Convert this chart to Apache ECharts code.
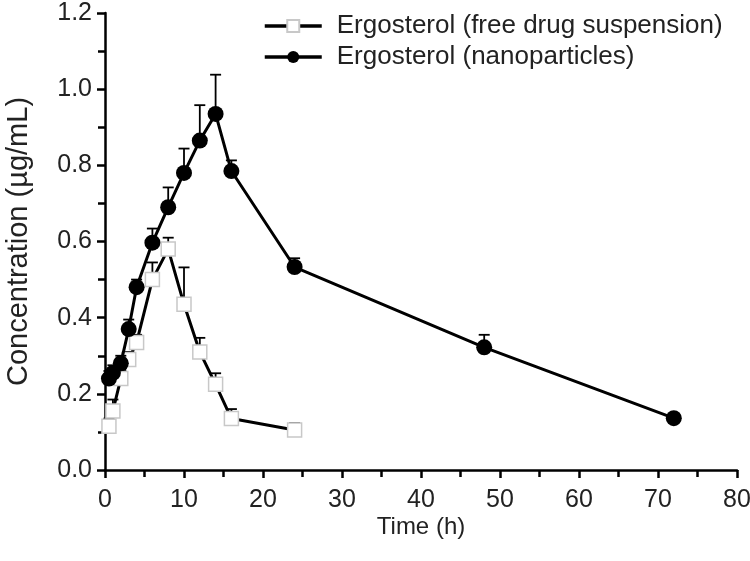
<!DOCTYPE html>
<html>
<head>
<meta charset="utf-8">
<script src="https://cdn.jsdelivr.net/npm/echarts@6/dist/echarts.min.js"></script>
<style>
  html, body { margin: 0; padding: 0; background: #fff; }
  #chart { width: 750px; height: 561px; }
</style>
</head>
<body>
<div id="chart"></div>
<script>
// time points (h)
const freeTime = [0.5, 1, 2, 3, 4, 6, 8, 10, 12, 14, 16, 24]
const freeConc = [0.115, 0.155, 0.24, 0.29, 0.335, 0.5, 0.58, 0.435, 0.31, 0.225, 0.135, 0.105]
const freeErr = [0.02, 0.03, 0.02, 0.02, 0.02, 0.045, 0.03, 0.097, 0.037, 0.029, 0.025, 0.018]

const nanoTime = [0.5, 1, 2, 3, 4, 6, 8, 10, 12, 14, 16, 24, 48, 72]
const nanoConc = [0.24, 0.255, 0.28, 0.37, 0.48, 0.597, 0.69, 0.78, 0.865, 0.935, 0.785, 0.533, 0.322, 0.136]
const nanoErr = [0.02, 0.02, 0.02, 0.025, 0.02, 0.037, 0.052, 0.064, 0.093, 0.103, 0.028, 0.023, 0.033, 0.01]

const seriesNames = ['Ergosterol (free drug suspension)', 'Ergosterol (nanoparticles)']

const chart = echarts.init(document.getElementById('chart'))

const pairs = (xs, ys) => xs.map((x, i) => [x, ys[i]])
const errData = (xs, ys, es) => xs.map((x, i) => [x, ys[i], ys[i] + es[i]])

// upper error bar with a cap
function renderErr(params, api) {
  const x = api.value(0)
  const base = api.coord([x, api.value(1)])
  const top = api.coord([x, api.value(2)])
  const half = 5.5
  const style = { stroke: '#000', lineWidth: 1.8, fill: null }
  return {
    type: 'group',
    children: [
      { type: 'line', shape: { x1: base[0], y1: base[1], x2: top[0], y2: top[1] }, style: style },
      { type: 'line', shape: { x1: top[0] - half, y1: top[1], x2: top[0] + half, y2: top[1] }, style: style }
    ]
  }
}

const font = 'Liberation Sans'
const tickFont = { fontFamily: font, fontSize: 25, color: '#222' }

chart.setOption({
  animation: false,
  grid: { left: 105, right: 13, top: 13, bottom: 91, outerBoundsMode: 'none', containLabel: false },
  legend: {
    orient: 'vertical',
    left: 263,
    top: 13,
    padding: 0,
    itemWidth: 57,
    itemHeight: 15,
    itemGap: 5,
    lineStyle: { width: 3.5, color: '#000' },
    textStyle: { fontFamily: font, fontSize: 26, color: '#222', padding: [0, 0, 0, 10] },
    data: seriesNames
  },
  xAxis: {
    type: 'value',
    min: 0,
    max: 80,
    interval: 10,
    name: 'Time (h)',
    nameLocation: 'middle',
    nameGap: 45,
    nameMoveOverlap: false,
    nameTextStyle: { fontFamily: font, fontSize: 24, color: '#222' },
    axisLine: { lineStyle: { color: '#000', width: 2.5 } },
    axisTick: { length: 8, lineStyle: { width: 2.5 } },
    minorTick: { show: true, splitNumber: 2, length: 7, lineStyle: { color: '#000', width: 2.5 } },
    axisLabel: Object.assign({ margin: 18 }, tickFont),
    splitLine: { show: false }
  },
  yAxis: {
    type: 'value',
    min: 0,
    max: 1.2,
    interval: 0.2,
    name: 'Concentration (µg/mL)',
    nameLocation: 'middle',
    nameGap: 72,
    nameMoveOverlap: false,
    nameTextStyle: { fontFamily: font, fontSize: 29, color: '#222' },
    axisLine: { show: true, lineStyle: { color: '#000', width: 2.5 } },
    axisTick: { show: true, length: 8, lineStyle: { width: 2.5 } },
    minorTick: { show: true, splitNumber: 2, length: 7, lineStyle: { color: '#000', width: 2.5 } },
    axisLabel: Object.assign({ margin: 13, formatter: v => v.toFixed(1) }, tickFont),
    splitLine: { show: false }
  },
  series: [
    {
      name: seriesNames[0] + ' err',
      type: 'custom',
      renderItem: renderErr,
      encode: { x: 0, y: [1, 2] },
      data: errData(freeTime, freeConc, freeErr),
      z: 1
    },
    {
      name: seriesNames[0],
      type: 'line',
      data: pairs(freeTime, freeConc),
      symbol: 'rect',
      symbolSize: 14,
      lineStyle: { color: '#000', width: 3 },
      itemStyle: { color: '#fff', borderColor: '#c8c8c8', borderWidth: 1.5 },
      z: 2
    },
    {
      name: seriesNames[1] + ' err',
      type: 'custom',
      renderItem: renderErr,
      encode: { x: 0, y: [1, 2] },
      data: errData(nanoTime, nanoConc, nanoErr),
      z: 3
    },
    {
      name: seriesNames[1],
      type: 'line',
      data: pairs(nanoTime, nanoConc),
      symbol: 'circle',
      symbolSize: 16,
      lineStyle: { color: '#000', width: 3 },
      itemStyle: { color: '#000', borderColor: '#000', borderWidth: 0 },
      z: 4
    }
  ]
})
</script>
</body>
</html>
